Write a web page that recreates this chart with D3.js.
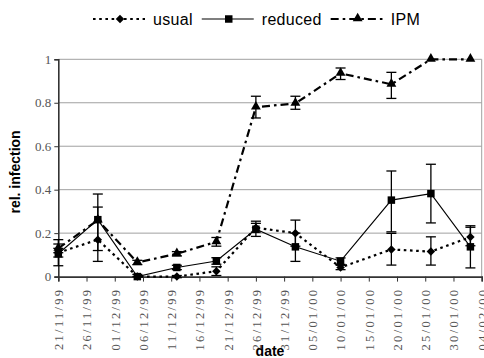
<!DOCTYPE html>
<html>
<head>
<meta charset="utf-8">
<script src="https://cdn.jsdelivr.net/npm/d3@7"></script>
<style>
  body { margin: 0; background: #fff; }
  svg { display: block; }
</style>
</head>
<body>
<div id="chart"></div>
<script>
const SVG_WIDTH = 484;
const SVG_HEIGHT = 358;
const PLOT = { left: 58.3, right: 481.7, top: 59.3, bottom: 276.6 };

// sampling dates
const DATES = ["21/11/99", "28/11/99", "05/12/99", "12/12/99", "19/12/99", "26/12/99",
               "02/01/00", "10/01/00", "19/01/00", "26/01/00", "02/02/00"];

const USUAL = [0.11, 0.17, 0.0, 0.0, 0.025, 0.225, 0.20, 0.042, 0.125, 0.115, 0.182];
const USUAL_MINUS = [0.02, 0.10, 0.0, 0.005, 0.02, 0.02, 0.06, 0.01, 0.072, 0.062, 0.04];
const USUAL_PLUS = [0.02, 0.15, 0.0, 0.005, 0.02, 0.02, 0.06, 0.01, 0.074, 0.068, 0.045];

const REDUCED = [0.105, 0.262, 0.0, 0.042, 0.072, 0.218, 0.137, 0.071, 0.352, 0.382, 0.137];
const REDUCED_MINUS = [0.055, 0.142, 0.0, 0.01, 0.015, 0.033, 0.067, 0.015, 0.146, 0.135, 0.097];
const REDUCED_PLUS = [0.065, 0.118, 0.01, 0.01, 0.015, 0.037, 0.063, 0.015, 0.134, 0.135, 0.097];

const IPM = [0.13, 0.26, 0.065, 0.105, 0.16, 0.78, 0.797, 0.935, 0.885, 1.0, 1.0];
const IPM_MINUS = [0.02, 0.0, 0.01, 0.01, 0.02, 0.05, 0.027, 0.028, 0.065, 0.0, 0.0];
const IPM_PLUS = [0.02, 0.0, 0.01, 0.01, 0.02, 0.05, 0.033, 0.025, 0.055, 0.0, 0.0];

const X_TICKS = ["21/11/99", "26/11/99", "01/12/99", "06/12/99", "11/12/99", "16/12/99",
                 "21/12/99", "26/12/99", "31/12/99", "05/01/00", "10/01/00", "15/01/00",
                 "20/01/00", "25/01/00", "30/01/00", "04/02/00"];
const Y_TICKS = [0, 0.2, 0.4, 0.6, 0.8, 1];

const parseDate = d3.utcParse("%d/%m/%y");
const formatDate = d3.utcFormat("%d/%m/%y");

const SERIES = [
  { name: "usual", values: USUAL, minus: USUAL_MINUS, plus: USUAL_PLUS,
    dash: "2.6,3.6", width: 2.2, marker: "diamond" },
  { name: "reduced", values: REDUCED, minus: REDUCED_MINUS, plus: REDUCED_PLUS,
    dash: null, width: 1.1, marker: "square" },
  { name: "IPM", values: IPM, minus: IPM_MINUS, plus: IPM_PLUS,
    dash: "8,4,2.6,4", width: 2.2, marker: "triangle" }
];

const svg = d3.select("#chart").append("svg")
  .attr("width", SVG_WIDTH)
  .attr("height", SVG_HEIGHT);

const x = d3.scaleUtc()
  .domain([parseDate(X_TICKS[0]), parseDate(X_TICKS[X_TICKS.length - 1])])
  .range([PLOT.left, PLOT.right]);

const y = d3.scaleLinear()
  .domain([0, 1])
  .range([PLOT.bottom, PLOT.top]);

// gridlines
svg.append("g")
  .selectAll("line")
  .data(Y_TICKS.filter(v => v > 0))
  .join("line")
  .attr("x1", PLOT.left)
  .attr("x2", PLOT.right)
  .attr("y1", d => y(d))
  .attr("y2", d => y(d))
  .attr("stroke", "#a0a0a0")
  .attr("stroke-width", 1);

svg.append("line")
  .attr("x1", PLOT.right).attr("x2", PLOT.right)
  .attr("y1", PLOT.top).attr("y2", PLOT.bottom)
  .attr("stroke", "#a0a0a0")
  .attr("stroke-width", 1);

// y axis
const yAxis = svg.append("g")
  .attr("transform", `translate(${PLOT.left},0)`)
  .call(d3.axisLeft(y).tickValues(Y_TICKS).tickSize(4).tickPadding(3)
    .tickFormat(d => d === 0 || d === 1 ? String(d) : d3.format(".1f")(d)));
yAxis.select(".domain").attr("stroke", "#333").attr("stroke-width", 1.6);
yAxis.selectAll(".tick line").attr("stroke", "#333");
yAxis.selectAll(".tick text")
  .attr("fill", "#555")
  .style("font-family", "'Liberation Serif', 'Times New Roman', serif")
  .style("font-size", "13px");

// x axis
const xAxis = svg.append("g")
  .attr("transform", `translate(0,${PLOT.bottom})`)
  .call(d3.axisBottom(x).tickValues(X_TICKS.map(parseDate)).tickSize(5)
    .tickFormat(formatDate));
xAxis.select(".domain").attr("stroke", "#333").attr("stroke-width", 1.6);
xAxis.selectAll(".tick line").attr("stroke", "#333");
xAxis.selectAll(".tick text")
  .attr("fill", "#555")
  .attr("transform", "rotate(-90)")
  .attr("text-anchor", "end")
  .attr("x", -11)
  .attr("y", 0)
  .attr("dy", "0.35em")
  .style("letter-spacing", "2.3px")
  .style("font-family", "'Liberation Serif', 'Times New Roman', serif")
  .style("font-size", "12.5px");

// axis titles
svg.append("text")
  .attr("transform", `translate(20,${(PLOT.top + PLOT.bottom) / 2 + 4}) rotate(-90)`)
  .attr("text-anchor", "middle")
  .style("font-family", "'Liberation Sans', Arial, sans-serif")
  .style("font-weight", "bold")
  .style("font-size", "14px")
  .text("rel. infection");

svg.append("text")
  .attr("x", (PLOT.left + PLOT.right) / 2)
  .attr("y", 356)
  .attr("text-anchor", "middle")
  .style("font-family", "'Liberation Sans', Arial, sans-serif")
  .style("font-weight", "bold")
  .style("font-size", "14px")
  .text("date");

function markerPath(type) {
  if (type === "diamond") return d3.symbol(d3.symbolSquare, 36)();
  if (type === "square") return d3.symbol(d3.symbolSquare, 56)();
  return d3.symbol(d3.symbolTriangle, 42)();
}
function markerTransform(type, px, py) {
  if (type === "diamond") return `translate(${px},${py}) rotate(45)`;
  if (type === "triangle") return `translate(${px},${py - 0.5})`;
  return `translate(${px},${py})`;
}

const line = d3.line()
  .x(d => x(d.date))
  .y(d => y(d.value));

SERIES.forEach(s => {
  const pts = DATES.map((d, i) => ({
    date: parseDate(d), value: s.values[i], minus: s.minus[i], plus: s.plus[i]
  }));
  const g = svg.append("g").attr("class", "series-" + s.name);

  g.append("path")
    .datum(pts)
    .attr("d", line)
    .attr("fill", "none")
    .attr("stroke", "#000")
    .attr("stroke-width", s.width)
    .attr("stroke-dasharray", s.dash);

  const eb = g.append("g").selectAll("g")
    .data(pts.filter(p => p.minus > 0 || p.plus > 0))
    .join("g")
    .attr("stroke", "#000")
    .attr("stroke-width", 1.3);
  eb.append("line")
    .attr("x1", p => x(p.date)).attr("x2", p => x(p.date))
    .attr("y1", p => y(p.value - p.minus)).attr("y2", p => y(p.value + p.plus));
  eb.append("line")
    .attr("x1", p => x(p.date) - 5).attr("x2", p => x(p.date) + 5)
    .attr("y1", p => y(p.value - p.minus)).attr("y2", p => y(p.value - p.minus));
  eb.append("line")
    .attr("x1", p => x(p.date) - 5).attr("x2", p => x(p.date) + 5)
    .attr("y1", p => y(p.value + p.plus)).attr("y2", p => y(p.value + p.plus));

  g.append("g").selectAll("path")
    .data(pts)
    .join("path")
    .attr("d", markerPath(s.marker))
    .attr("transform", p => markerTransform(s.marker, x(p.date), y(p.value)))
    .attr("fill", "#000");
});

// legend
const legend = svg.append("g").attr("class", "legend");
let lx = 93;
const LEGEND_Y = 19;
SERIES.forEach(s => {
  legend.append("line")
    .attr("x1", lx).attr("x2", lx + 52)
    .attr("y1", LEGEND_Y).attr("y2", LEGEND_Y)
    .attr("stroke", "#000")
    .attr("stroke-width", s.width)
    .attr("stroke-dasharray", s.dash);
  legend.append("path")
    .attr("d", markerPath(s.marker))
    .attr("transform", markerTransform(s.marker, lx + 27, LEGEND_Y))
    .attr("fill", "#000");
  const t = legend.append("text")
    .attr("x", lx + 60)
    .attr("y", LEGEND_Y + 5.5)
    .style("font-family", "'Liberation Sans', Arial, sans-serif")
    .style("font-size", "16px")
    .style("letter-spacing", "0.3px")
    .text(s.name);
  lx += 60 + t.node().getComputedTextLength() + 9;
});
</script>
</body>
</html>
